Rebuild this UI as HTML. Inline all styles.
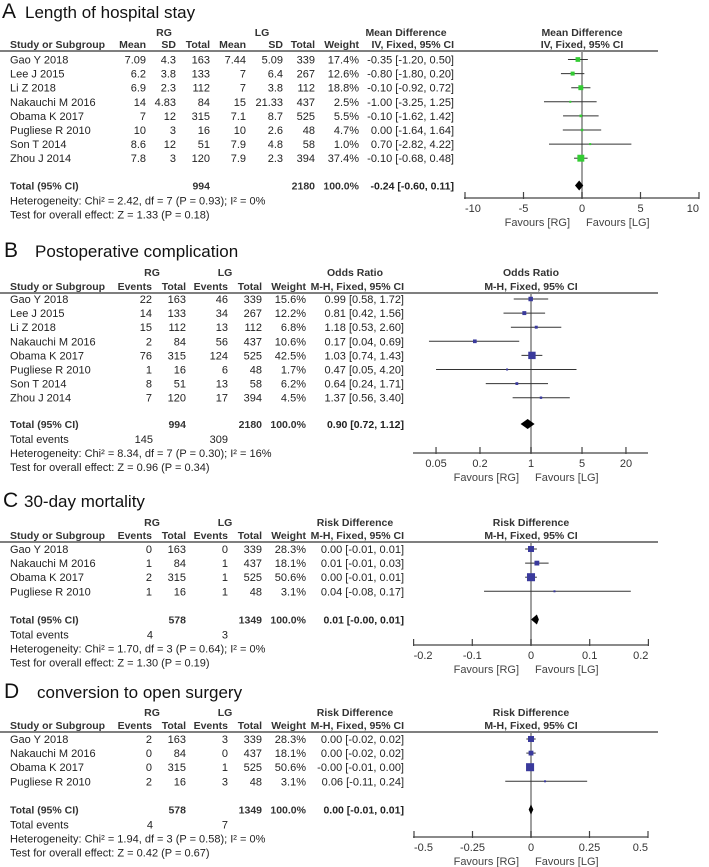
<!DOCTYPE html>
<html><head><meta charset="utf-8">
<style>
html,body{margin:0;padding:0;background:#fff;}
svg{display:block;font-family:"Liberation Sans",Arial,sans-serif;}
</style></head>
<body>
<svg id="chart" width="709" height="867" viewBox="0 0 709 867" xmlns="http://www.w3.org/2000/svg"></svg>
<script>
// ---------- Panel A data ----------
const aStudies = ["Gao Y 2018","Lee J 2015","Li Z 2018","Nakauchi M 2016","Obama K 2017","Pugliese R 2010","Son T 2014","Zhou J 2014"];
const aRgMean = ["7.09","6.2","6.9","14","7","10","8.6","7.8"];
const aRgSd = ["4.3","3.8","2.3","4.83","12","3","12","3"];
const aRgTotal = [163,133,112,84,315,16,51,120];
const aLgMean = ["7.44","7","7","15","7.1","10","7.9","7.9"];
const aLgSd = ["5.09","6.4","3.8","21.33","8.7","2.6","4.8","2.3"];
const aLgTotal = [339,267,112,437,525,48,58,394];
const aWeights = [17.4,12.6,18.8,2.5,5.5,4.7,1.0,37.4];
const aEst = [-0.35,-0.80,-0.10,-1.00,-0.10,0.00,0.70,-0.10];
const aLo = [-1.20,-1.80,-0.92,-3.25,-1.62,-1.64,-2.82,-0.68];
const aHi = [0.50,0.20,0.72,1.25,1.42,1.64,4.22,0.48];
const aTotal = {est:-0.24, lo:-0.60, hi:0.11, label:"-0.24 [-0.60, 0.11]", rg:"994", lg:"2180"};
const aTicks = [-10,-5,0,5,10];
const aTickLabels = ["-10","-5","0","5","10"];

// ---------- Panel B data ----------
const bStudies = ["Gao Y 2018","Lee J 2015","Li Z 2018","Nakauchi M 2016","Obama K 2017","Pugliese R 2010","Son T 2014","Zhou J 2014"];
const bRgEvents = [22,14,15,2,76,1,8,7];
const bRgTotal = [163,133,112,84,315,16,51,120];
const bLgEvents = [46,34,13,56,124,6,13,17];
const bLgTotal = [339,267,112,437,525,48,58,394];
const bWeights = [15.6,12.2,6.8,10.6,42.5,1.7,6.2,4.5];
const bEst = [0.99,0.81,1.18,0.17,1.03,0.47,0.64,1.37];
const bLo = [0.58,0.42,0.53,0.04,0.74,0.05,0.24,0.56];
const bHi = [1.72,1.56,2.60,0.69,1.43,4.20,1.71,3.40];
const bTotal = {est:0.90, lo:0.72, hi:1.12, label:"0.90 [0.72, 1.12]", rg:"994", lg:"2180", rgEv:"145", lgEv:"309"};
const bTicks = [0.05,0.2,1,5,20];
const bTickLabels = ["0.05","0.2","1","5","20"];

// ---------- Panel C data ----------
const cStudies = ["Gao Y 2018","Nakauchi M 2016","Obama K 2017","Pugliese R 2010"];
const cRgEvents = [0,1,2,1];
const cRgTotal = [163,84,315,16];
const cLgEvents = [0,1,1,1];
const cLgTotal = [339,437,525,48];
const cWeights = [28.3,18.1,50.6,3.1];
const cEst = [0.00,0.01,0.00,0.04];
const cLo = [-0.01,-0.01,-0.01,-0.08];
const cHi = [0.01,0.03,0.01,0.17];
const cTotal = {est:0.01, lo:-0.00, hi:0.01, label:"0.01 [-0.00, 0.01]", rg:"578", lg:"1349", rgEv:"4", lgEv:"3"};
const cTicks = [-0.2,-0.1,0,0.1,0.2];
const cTickLabels = ["-0.2","-0.1","0","0.1","0.2"];

// ---------- Panel D data ----------
const dStudies = ["Gao Y 2018","Nakauchi M 2016","Obama K 2017","Pugliese R 2010"];
const dRgEvents = [2,0,0,2];
const dRgTotal = [163,84,315,16];
const dLgEvents = [3,0,1,3];
const dLgTotal = [339,437,525,48];
const dWeights = [28.3,18.1,50.6,3.1];
const dEst = [0.00,0.00,-0.004,0.06];
const dLo = [-0.02,-0.02,-0.01,-0.11];
const dHi = [0.02,0.02,0.00,0.24];
const dTotal = {est:0.00, lo:-0.01, hi:0.01, label:"0.00 [-0.01, 0.01]", rg:"578", lg:"1349", rgEv:"4", lgEv:"7"};
const dTicks = [-0.5,-0.25,0,0.25,0.5];
const dTickLabels = ["-0.5","-0.25","0","0.25","0.5"];

const svg = document.getElementById('chart');
const NS = 'http://www.w3.org/2000/svg';
function mk(tag, name, attrs) {
  const e = document.createElementNS(NS, tag);
  
  
  for (const k in attrs) e.setAttribute(k, attrs[k]);
  svg.appendChild(e);
  return e;
}
function txt(name, x, y, s, anchor, opts) {
  opts = opts || {};
  const t = mk('text', name, {x:x, y:y, 'text-anchor':anchor||'start', 'font-size':opts.size||(opts.bold?10.5:11),
    fill:opts.fill||'#222', 'font-weight':opts.bold?'bold':'normal'});
  t.textContent = s;
  return t;
}
function fmt(v){ return v.toFixed(2); }
function ciText(e,l,h){ return fmt(e)+" ["+fmt(l)+", "+fmt(h)+"]"; }

function drawPanel(P) {
  txt(P.id+'-panel-letter', P.letterX, P.titleY, P.letter, 'start', {size:21, fill:'#111'});
  txt(P.id+'-panel-title', P.titleX, P.titleY, P.title, 'start', {size:17, fill:'#111'});
  const hb = {bold:true, fill:'#333'};
  txt(P.id+'-rg-header', P.rgCenter, P.h1, 'RG', 'middle', hb);
  txt(P.id+'-lg-header', P.lgCenter, P.h1, 'LG', 'middle', hb);
  txt(P.id+'-effect-header', P.effCenter, P.h1, P.effName, 'middle', hb);
  txt(P.id+'-plot-header', P.zeroX, P.h1, P.effName, 'middle', hb);
  txt(P.id+'-study-col-header', 10, P.h2, 'Study or Subgroup', 'start', hb);
  P.cols.forEach((c,j)=>{ txt(P.id+'-col-header-'+j, c.x, P.h2, c.head, 'end', hb); });
  txt(P.id+'-ci-col-header', P.ciRight, P.h2, P.method, 'end', hb);
  txt(P.id+'-plot-method-header', P.zeroX, P.h2, P.method, 'middle', hb);
  mk('line', P.id+'-header-rule', {x1:0, x2:658, y1:P.h2+3, y2:P.h2+3, stroke:'#555', 'stroke-width':1.5});
  mk('line', P.id+'-null-line', {x1:P.zeroX, x2:P.zeroX, y1:P.h2+3, y2:P.axisY, stroke:'#888', 'stroke-width':1.6});
  const n = P.studies.length;
  for (let i=0;i<n;i++){
    const y = P.row0 + i*P.rowStep;
    txt(P.id+'-study-name', 10, y+4, P.studies[i]);
    P.cols.forEach((c,j)=>{ txt(P.id+'-'+c.name, c.x, y+4, String(c.data[i]), 'end'); });
    txt(P.id+'-ci-value', P.ciRight, y+4, ciText(P.est[i],P.lo[i],P.hi[i]), 'end');
    const x1 = P.sx(P.lo[i]), x2 = P.sx(P.hi[i]), cx = P.sx(P.est[i]);
    mk('line', P.id+'-ci-line', {x1:x1, x2:x2, y1:y, y2:y, stroke:'#333', 'stroke-width':1});
    const s = Math.max(2, Math.sqrt(P.w[i])*1.13);
    mk('rect', P.id+'-study-marker', {x:cx-s/2, y:y-s/2, width:s, height:s, fill:P.color});
  }
  const ty = P.totalY;
  txt(P.id+'-total-label', 10, ty+4, 'Total (95% CI)', 'start', {bold:true, fill:'#333'});
  txt(P.id+'-total-rg', P.rgTotalX, ty+4, P.total.rg, 'end', {bold:true, fill:'#333'});
  txt(P.id+'-total-lg', P.lgTotalX, ty+4, P.total.lg, 'end', {bold:true, fill:'#333'});
  txt(P.id+'-total-weight', P.weightX, ty+4, '100.0%', 'end', {bold:true, fill:'#333'});
  txt(P.id+'-total-ci', P.ciRight, ty+4, P.total.label, 'end', {bold:true, fill:'#222'});
  const dl = P.sx(P.total.lo), dh = P.sx(P.total.hi), de = P.sx(P.total.est);
  mk('polygon', P.id+'-total-diamond', {points:`${Math.min(dl,de-2)},${ty} ${de},${ty-5} ${Math.max(dh,de+2)},${ty} ${de},${ty+5}`, fill:'#000'});
  let yy = ty + 15;
  if (P.total.rgEv !== undefined) {
    txt(P.id+'-total-events-label', 10, yy+4, 'Total events');
    txt(P.id+'-total-events-rg', P.evRgX, yy+4, P.total.rgEv, 'end');
    txt(P.id+'-total-events-lg', P.evLgX, yy+4, P.total.lgEv, 'end');
    yy += 14;
  }
  txt(P.id+'-heterogeneity', 10, yy+4, P.het);
  txt(P.id+'-overall-effect', 10, yy+18, P.z);
  const a0 = P.axisL, a1 = P.axisR;
  mk('line', P.id+'-x-axis', {x1:a0, x2:a1, y1:P.axisY, y2:P.axisY, stroke:'#444', 'stroke-width':1.3});
  P.ticks.forEach((t,k)=>{
    const x = P.sx(t);
    mk('line', P.id+'-x-tick', {x1:x, x2:x, y1:P.axisY-6, y2:P.axisY+1, stroke:'#444', 'stroke-width':1.2});
    let anc = 'middle';
    if (Math.abs(x-a0)<2) anc='start';
    if (Math.abs(x-a1)<2) anc='end';
    txt(P.id+'-x-tick-label', x, P.axisY+14, P.tickLabels[k], anc, {fill:'#333'});
  });
  txt(P.id+'-favours-rg', P.zeroX-12, P.axisY+28, 'Favours [RG]', 'end', {fill:'#444'});
  txt(P.id+'-favours-lg', P.zeroX+4, P.axisY+28, 'Favours [LG]', 'start', {fill:'#444'});
}

drawPanel({id:'panel-a', letter:'A', letterX:2, titleX:25, titleY:18, title:'Length of hospital stay',
  rgCenter:164, lgCenter:262, effCenter:406, effName:'Mean Difference', method:'IV, Fixed, 95% CI',
  h1:36, h2:48, ciRight:454, zeroX:582,
  cols:[{name:'rg-mean',head:'Mean',x:146,data:aRgMean},{name:'rg-sd',head:'SD',x:176,data:aRgSd},
        {name:'rg-total',head:'Total',x:210,data:aRgTotal},{name:'lg-mean',head:'Mean',x:246,data:aLgMean},
        {name:'lg-sd',head:'SD',x:283,data:aLgSd},{name:'lg-total',head:'Total',x:315,data:aLgTotal},
        {name:'weight',head:'Weight',x:359,data:aWeights.map(w=>w.toFixed(1)+'%')}],
  studies:aStudies, est:aEst, lo:aLo, hi:aHi, w:aWeights, color:'#33cc33',
  row0:59.5, rowStep:14.1, totalY:185.5, rgTotalX:210, lgTotalX:315, weightX:359,
  total:aTotal, het:'Heterogeneity: Chi² = 2.42, df = 7 (P = 0.93); I² = 0%', z:'Test for overall effect: Z = 1.33 (P = 0.18)',
  axisY:198, axisL:464, axisR:699, sx:v=>582+v*11.7, ticks:aTicks, tickLabels:aTickLabels});

const evCols = (rgE,rgT,lgE,lgT,w)=>[{name:'rg-events',head:'Events',x:152,data:rgE},{name:'rg-total',head:'Total',x:186,data:rgT},
  {name:'lg-events',head:'Events',x:228,data:lgE},{name:'lg-total',head:'Total',x:262,data:lgT},
  {name:'weight',head:'Weight',x:306,data:w.map(v=>v.toFixed(1)+'%')}];
drawPanel({id:'panel-b', letter:'B', letterX:4, titleX:35, titleY:257, title:'Postoperative complication',
  rgCenter:152, lgCenter:225, effCenter:355, effName:'Odds Ratio', method:'M-H, Fixed, 95% CI',
  h1:276, h2:290, ciRight:404, zeroX:531,
  cols:evCols(bRgEvents,bRgTotal,bLgEvents,bLgTotal,bWeights),
  studies:bStudies, est:bEst, lo:bLo, hi:bHi, w:bWeights, color:'#3a3a9c',
  row0:299, rowStep:14.1, totalY:424, rgTotalX:186, lgTotalX:262, weightX:306, evRgX:153, evLgX:228,
  total:bTotal, het:'Heterogeneity: Chi² = 8.34, df = 7 (P = 0.30); I² = 16%', z:'Test for overall effect: Z = 0.96 (P = 0.34)',
  axisY:453, axisL:413, axisR:648, sx:v=>531+Math.log(v)*31.7, ticks:bTicks, tickLabels:bTickLabels});

drawPanel({id:'panel-c', letter:'C', letterX:3, titleX:24, titleY:507, title:'30-day mortality',
  rgCenter:152, lgCenter:225, effCenter:355, effName:'Risk Difference', method:'M-H, Fixed, 95% CI',
  h1:526, h2:539, ciRight:404, zeroX:531,
  cols:evCols(cRgEvents,cRgTotal,cLgEvents,cLgTotal,cWeights),
  studies:cStudies, est:cEst, lo:cLo, hi:cHi, w:cWeights, color:'#3a3a9c',
  row0:549, rowStep:14.1, totalY:619.5, rgTotalX:186, lgTotalX:262, weightX:306, evRgX:153, evLgX:228,
  total:cTotal, het:'Heterogeneity: Chi² = 1.70, df = 3 (P = 0.64); I² = 0%', z:'Test for overall effect: Z = 1.30 (P = 0.19)',
  axisY:645, axisL:413, axisR:648, sx:v=>531+v*587, ticks:cTicks, tickLabels:cTickLabels});

drawPanel({id:'panel-d', letter:'D', letterX:4, titleX:37, titleY:698, title:'conversion to open surgery',
  rgCenter:152, lgCenter:225, effCenter:355, effName:'Risk Difference', method:'M-H, Fixed, 95% CI',
  h1:716, h2:729, ciRight:404, zeroX:531,
  cols:evCols(dRgEvents,dRgTotal,dLgEvents,dLgTotal,dWeights),
  studies:dStudies, est:dEst, lo:dLo, hi:dHi, w:dWeights, color:'#3a3a9c',
  row0:739, rowStep:14.1, totalY:809.5, rgTotalX:186, lgTotalX:262, weightX:306, evRgX:153, evLgX:228,
  total:dTotal, het:'Heterogeneity: Chi² = 1.94, df = 3 (P = 0.58); I² = 0%', z:'Test for overall effect: Z = 0.42 (P = 0.67)',
  axisY:837, axisL:413, axisR:648, sx:v=>531+v*234, ticks:dTicks, tickLabels:dTickLabels});
</script>
</body></html>
